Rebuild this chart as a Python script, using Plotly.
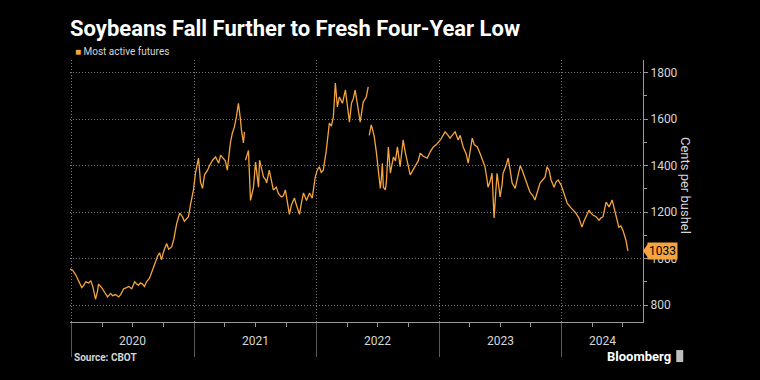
import plotly.graph_objects as go

# ---- data ----
dates_2020 = ["2019-12-27", "2020-01-04", "2020-01-13", "2020-01-22", "2020-01-31", "2020-02-06", "2020-02-12",
              "2020-02-21", "2020-02-27", "2020-03-04", "2020-03-12", "2020-03-18", "2020-03-21", "2020-03-27",
              "2020-04-02", "2020-04-08", "2020-04-17", "2020-04-26", "2020-05-02", "2020-05-11", "2020-05-20",
              "2020-05-26", "2020-06-04", "2020-06-13", "2020-06-19", "2020-06-28", "2020-07-07", "2020-07-13",
              "2020-07-18", "2020-07-24", "2020-07-30", "2020-08-05", "2020-08-11", "2020-08-20", "2020-08-29",
              "2020-09-07", "2020-09-13", "2020-09-19", "2020-09-25", "2020-10-01", "2020-10-10", "2020-10-16",
              "2020-10-25", "2020-10-31", "2020-11-09", "2020-11-18", "2020-11-26", "2020-12-02", "2020-12-08",
              "2020-12-14", "2020-12-20", "2020-12-29"]
prices_2020 = [955, 950, 930, 900, 875, 885, 900,
               895, 905, 880, 825, 860, 890, 880,
               870, 855, 835, 850, 840, 845, 835,
               845, 870, 875, 880, 870, 900, 890,
               885, 895, 890, 880, 900, 915, 950,
               990, 1010, 1025, 995, 1030, 1065, 1040,
               1050, 1080, 1150, 1195, 1180, 1160, 1170,
               1180, 1230, 1295]

dates_2021 = ["2021-01-04", "2021-01-13", "2021-01-19", "2021-01-25", "2021-01-31", "2021-02-09", "2021-02-15",
              "2021-02-24", "2021-03-05", "2021-03-14", "2021-03-20", "2021-03-28", "2021-04-03", "2021-04-09",
              "2021-04-18", "2021-04-24", "2021-04-30", "2021-05-06", "2021-05-12", "2021-05-18", "2021-05-21",
              "2021-05-27", "2021-05-30", "2021-05-31", "2021-06-02", "2021-06-11", "2021-06-17", "2021-06-23",
              "2021-06-26", "2021-07-02", "2021-07-08", "2021-07-11", "2021-07-14", "2021-07-20", "2021-07-26",
              "2021-08-01", "2021-08-04", "2021-08-12", "2021-08-18", "2021-08-24", "2021-09-02", "2021-09-08",
              "2021-09-17", "2021-09-23", "2021-09-29", "2021-10-05", "2021-10-11", "2021-10-17", "2021-10-26",
              "2021-11-01", "2021-11-10", "2021-11-16", "2021-11-22", "2021-12-01", "2021-12-10", "2021-12-18",
              "2021-12-27"]
prices_2021 = [1367, 1432, 1330, 1302, 1360, 1380, 1400,
               1423, 1437, 1410, 1445, 1430, 1420, 1380,
               1497, 1540, 1566, 1610, 1668, 1600, 1552,
               1497, 1545, None, 1423, 1465, 1250, 1290,
               1307, 1415, 1340, 1307, 1423, 1380, 1350,
               1340, 1325, 1380, 1330, 1295, 1307, 1280,
               1265, 1270, 1295, 1250, 1190, 1230, 1260,
               1230, 1190, 1240, 1282, 1250, 1282, 1260,
               1350]

dates_2022 = ["2022-01-02", "2022-01-08", "2022-01-14", "2022-01-20", "2022-01-29", "2022-02-07", "2022-02-13",
              "2022-02-19", "2022-02-25", "2022-03-03", "2022-03-09", "2022-03-18", "2022-03-27", "2022-04-02",
              "2022-04-08", "2022-04-14", "2022-04-20", "2022-04-25", "2022-05-04", "2022-05-10", "2022-05-19",
              "2022-05-28", "2022-06-03", "2022-06-04", "2022-06-06", "2022-06-12", "2022-06-15", "2022-06-21",
              "2022-06-27", "2022-07-03", "2022-07-09", "2022-07-12", "2022-07-15", "2022-07-18", "2022-07-24",
              "2022-07-27", "2022-08-02", "2022-08-08", "2022-08-17", "2022-08-23", "2022-08-29", "2022-09-06",
              "2022-09-15", "2022-09-21", "2022-09-27", "2022-10-06", "2022-10-12", "2022-10-21", "2022-10-30",
              "2022-11-05", "2022-11-14", "2022-11-26", "2022-12-05", "2022-12-14", "2022-12-23"]
prices_2022 = [1380, 1395, 1370, 1380, 1465, 1582, 1570,
               1608, 1755, 1652, 1695, 1668, 1725, 1660,
               1587, 1668, 1690, 1725, 1652, 1587, 1673,
               1695, 1738, None, 1530, 1575, 1560, 1523,
               1460, 1367, 1302, 1340, 1410, 1307, 1295,
               1330, 1480, 1367, 1437, 1420, 1480, 1395,
               1510, 1460, 1423, 1360, 1375, 1395, 1420,
               1453, 1440, 1432, 1460, 1480, 1490]

dates_2023 = ["2023-01-04", "2023-01-12", "2023-01-18", "2023-01-27", "2023-02-02", "2023-02-11", "2023-02-17",
              "2023-02-26", "2023-03-04", "2023-03-13", "2023-03-22", "2023-03-28", "2023-04-03", "2023-04-09",
              "2023-04-15", "2023-04-24", "2023-05-03", "2023-05-09", "2023-05-17", "2023-05-23", "2023-05-26",
              "2023-06-01", "2023-06-07", "2023-06-13", "2023-06-16", "2023-06-22", "2023-06-28", "2023-07-01",
              "2023-07-07", "2023-07-10", "2023-07-19", "2023-07-25", "2023-07-31", "2023-08-06", "2023-08-15",
              "2023-08-24", "2023-08-30", "2023-09-05", "2023-09-14", "2023-09-22", "2023-09-28", "2023-10-07",
              "2023-10-13", "2023-10-19", "2023-10-28", "2023-11-06", "2023-11-12", "2023-11-18", "2023-11-24",
              "2023-11-30", "2023-12-09", "2023-12-15", "2023-12-21", "2023-12-30"]
prices_2023 = [1510, 1530, 1545, 1530, 1518, 1535, 1545,
               1510, 1530, 1480, 1450, 1410, 1460, 1518,
               1490, 1480, 1450, 1423, 1395, 1340, 1307,
               1330, 1367, 1175, 1250, 1367, 1300, 1265,
               1320, 1367, 1400, 1432, 1380, 1325, 1302,
               1360, 1400, 1380, 1338, 1310, 1286, 1270,
               1252, 1280, 1325, 1340, 1350, 1395, 1380,
               1338, 1307, 1330, 1338, 1316]

dates_2024 = ["2024-01-05", "2024-01-11", "2024-01-17", "2024-01-23", "2024-01-29", "2024-02-06", "2024-02-12",
              "2024-02-21", "2024-03-01", "2024-03-07", "2024-03-13", "2024-03-22", "2024-03-28", "2024-04-03",
              "2024-04-12", "2024-04-21", "2024-04-27", "2024-05-03", "2024-05-12", "2024-05-21", "2024-05-30",
              "2024-06-05", "2024-06-10", "2024-06-19", "2024-06-25", "2024-07-01", "2024-07-10", "2024-07-16"]
prices_2024 = [1286, 1265, 1238, 1225, 1217, 1205, 1195,
               1174, 1135, 1160, 1180, 1208, 1195, 1187,
               1180, 1165, 1175, 1180, 1243, 1222, 1252,
               1215, 1187, 1135, 1140, 1122, 1080, 1033]

year_labels = ["2020", "2021", "2022", "2023", "2024"]
year_label_dates = ["2020-07-01", "2021-07-02", "2022-07-02", "2023-07-02", "2024-04-30"]
x_range = ["2019-12-27", "2024-08-30"]
y_range = [727, 1854]

dates = dates_2020 + dates_2021 + dates_2022 + dates_2023 + dates_2024
prices = prices_2020 + prices_2021 + prices_2022 + prices_2023 + prices_2024
last_price = prices[-1]

ORANGE = "#F5A43F"
GRID = "#7a7a7a"
AXIS = "#9a9a9a"
TXT = "#d6d6d6"
FONT = "Roboto, Liberation Sans, sans-serif"

fig = go.Figure()
fig.add_trace(go.Scatter(x=dates, y=prices, mode="lines", connectgaps=False,
                         line=dict(color=ORANGE, width=1.3), hoverinfo="skip",
                         name="Most active futures"))

fig.update_layout(
    width=760, height=380,
    paper_bgcolor="#000000", plot_bgcolor="#000000",
    margin=dict(l=70, r=117, t=60, b=58),
    showlegend=False,
    font=dict(family=FONT, color=TXT, size=12),
    xaxis=dict(
        type="date", range=x_range, tickmode="linear", tick0="2020-01-01", dtick="M12",
        showticklabels=False, ticks="outside", ticklen=34, tickcolor="#5a5a5a", tickwidth=1,
        showgrid=True, gridcolor=GRID, griddash="1px,2px", gridwidth=1,
        showline=True, linecolor=AXIS, linewidth=1, zeroline=False,
        minor=dict(tick0="2020-01-01", dtick="M3", ticks="outside", ticklen=4,
                   tickcolor=AXIS, showgrid=False),
        automargin=False,
    ),
    yaxis=dict(
        side="right", range=y_range, tickmode="linear", tick0=800, dtick=200,
        showgrid=True, gridcolor=GRID, griddash="1px,2px", gridwidth=1,
        showline=True, linecolor=AXIS, linewidth=1, zeroline=False,
        ticks="outside", ticklen=4, tickcolor=AXIS,
        tickfont=dict(size=12, color=TXT, family=FONT),
        minor=dict(tick0=800, dtick=100, ticks="outside", ticklen=3, tickcolor=AXIS, showgrid=False),
        automargin=False,
    ),
)

annotations = [
    dict(text="<b>Soybeans Fall Further to Fresh Four-Year Low</b>", xref="paper", yref="paper",
         x=-0.004, y=1.12, xanchor="left", yanchor="middle", showarrow=False,
         font=dict(size=22, color="#ffffff", family=FONT)),
    dict(text="<span style='color:%s'>■</span> Most active futures" % ORANGE, xref="paper", yref="paper",
         x=0.005, y=1.031, xanchor="left", yanchor="middle", showarrow=False,
         font=dict(size=10, color=TXT, family=FONT)),
    dict(text="Cents per bushel", xref="paper", yref="paper", x=1.073, y=0.52, textangle=90,
         xanchor="center", yanchor="middle", showarrow=False,
         font=dict(size=13, color=TXT, family=FONT)),
    dict(text="%d" % last_price, xref="paper", yref="y", x=1, y=last_price, xanchor="left",
         yanchor="middle", xshift=4, showarrow=False, bgcolor=ORANGE, borderpad=1,
         font=dict(size=12, color="#000000", family=FONT)),
    dict(text="<b>Source: CBOT</b>", xref="paper", yref="paper", x=0.004, y=-0.134,
         xanchor="left", yanchor="middle", showarrow=False,
         font=dict(size=10, color=TXT, family=FONT)),
    dict(text="<b>Bloomberg</b>", xref="paper", yref="paper", x=1.052, y=-0.13,
         xanchor="right", yanchor="middle", showarrow=False,
         font=dict(size=13, color="#ffffff", family=FONT)),
]
for lbl, d in zip(year_labels, year_label_dates):
    annotations.append(dict(text=lbl, xref="x", yref="paper", x=d, y=-0.073, xanchor="center",
                            yanchor="middle", showarrow=False, font=dict(size=12, color=TXT, family=FONT)))
fig.update_layout(annotations=annotations)

# pointer of the last-value label and the small logo glyph
fig.add_shape(type="path", xref="paper", yref="y", xsizemode="pixel", ysizemode="pixel",
              xanchor=1, yanchor=last_price, path="M 0 0 L 5 7 L 5 -7 Z",
              fillcolor=ORANGE, line=dict(width=0))
fig.add_shape(type="rect", xref="paper", yref="paper", xsizemode="pixel", ysizemode="pixel",
              xanchor=1.058, yanchor=-0.13, x0=0, x1=7, y0=-6, y1=6,
              fillcolor="#bdbdbd", line=dict(width=0))

fig.write_html("out.html", config={"displayModeBar": False},
               post_script="document.body.style.margin='0';document.body.style.background='#000';")
